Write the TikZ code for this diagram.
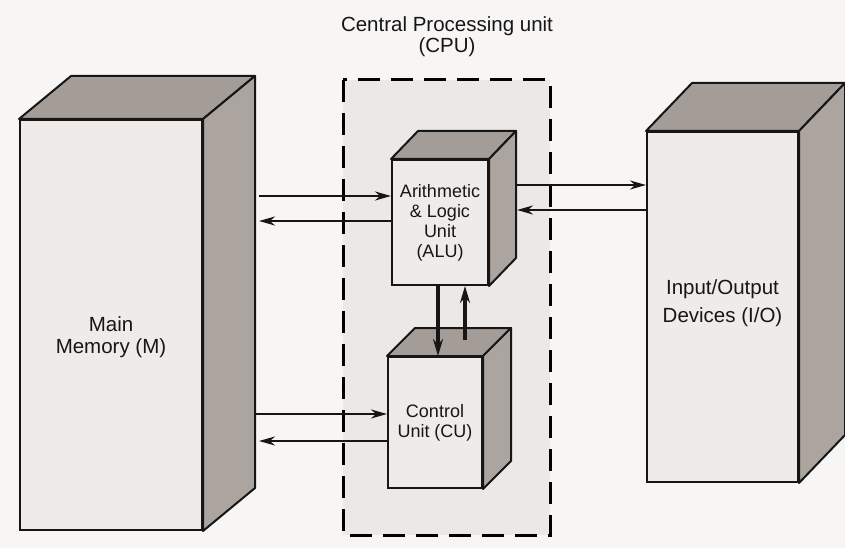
\documentclass[tikz,border=0pt]{standalone}
\usepackage{fontspec}
\setmainfont{Liberation Sans}
\usetikzlibrary{arrows.meta,calc}
\definecolor{facec}{HTML}{EFEBE9}
\definecolor{sidec}{HTML}{ABA49F}
\definecolor{topc}{HTML}{A49C97}
\definecolor{cpuc}{HTML}{ECE8E6}
\definecolor{bgc}{HTML}{F8F6F5}
\definecolor{inkc}{HTML}{161616}
\newcommand\cubefaces[3]{%
  \filldraw[topface] (#1.north west) -- ++(#2,-#3) -- ($(#1.north east)+(#2,-#3)$) -- (#1.north east) -- cycle;
  \filldraw[sideface] (#1.north east) -- ++(#2,-#3) -- ($(#1.south east)+(#2,-#3)$) -- (#1.south east) -- cycle;
}
\begin{document}
\begin{tikzpicture}[x=1pt,y=-1pt,
  frontface/.style={draw=inkc, line width=2pt, fill=facec, rectangle, inner sep=0pt, align=center, text=inkc},
  topface/.style={draw=inkc, line width=2pt, fill=topc, line join=round},
  sideface/.style={draw=inkc, line width=2pt, fill=sidec, line join=round},
  bigtext/.style={font=\fontsize{20.5}{22}\selectfont, text=inkc, align=center},
  smalltext/.style={font=\fontsize{18}{20}\selectfont},
  arr/.style={draw=inkc, line width=2.4pt, -{Stealth[length=16pt,width=9pt]}},
  varr/.style={arr, line width=3.2pt, -{Stealth[length=17pt,width=10pt]}},
  cpubox/.style={draw=black, line width=3pt, dash pattern=on 22pt off 11pt, fill=cpuc}]
\fill[bgc] (0,0) rectangle (845,548);
\useasboundingbox (0,0) rectangle (845,548);

% CPU region
\draw[cpubox] (343,80) rectangle (550,535);
\node[bigtext] (cputitle) at (447,37) {Central Processing unit\\[-1pt](CPU)};

% Main memory
\node[frontface, minimum width=182pt, minimum height=410pt] (mem) at (111,325) {};
\cubefaces{mem}{52}{43}
\node[bigtext] (memlabel) at (111,337) {Main\\Memory (M)};

% I/O devices
\node[frontface, minimum width=151pt, minimum height=350pt] (io) at (722.5,307) {};
\cubefaces{io}{46}{48}
\node[bigtext, font=\fontsize{20.5}{28}\selectfont] (iolabel) at (722.5,303) {Input/Output\\Devices (I/O)};

% ALU
\node[frontface, smalltext, minimum width=96pt, minimum height=125pt] (alu) at (440,222.5) {Arithmetic\\\& Logic\\Unit\\(ALU)};
\cubefaces{alu}{27}{28}

% CU
\node[frontface, smalltext, minimum width=94pt, minimum height=131pt] (cu) at (435,422.5) {Control\\Unit (CU)};
\cubefaces{cu}{28}{28}

% free ends
\coordinate (mA1) at (259,196);
\coordinate (mA2) at (259,221);
\coordinate (mC1) at (256,414);
\coordinate (mC2) at (259,441);
\coordinate (aR1) at (515,185);
\coordinate (aR2) at (517,210);
\coordinate (cT) at (465,340);

% arrows memory <-> ALU
\draw[arr] (mA1) -- (alu.west |- mA1);
\draw[arr] (alu.west |- mA2) -- (mA2);
% arrows memory <-> CU
\draw[arr] (mC1) -- (cu.west |- mC1);
\draw[arr] (cu.west |- mC2) -- (mC2);
% arrows ALU <-> I/O
\draw[arr] (aR1) -- (io.west |- aR1);
\draw[arr] (io.west |- aR2) -- (aR2);
% ALU <-> CU
\draw[varr] (alu.south -| 438,0) -- (cu.north -| 438,0);
\draw[varr] (cT) -- (alu.south -| cT);
\end{tikzpicture}
\end{document}
